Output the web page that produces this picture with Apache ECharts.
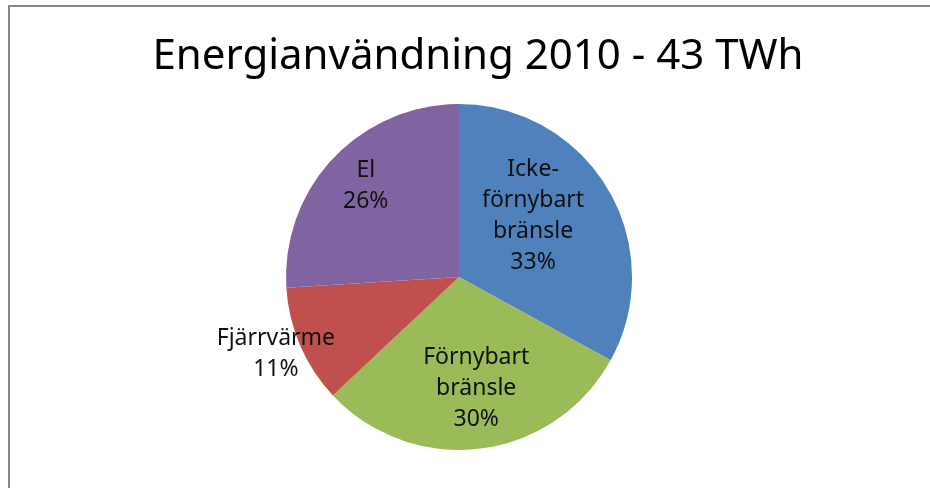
<!DOCTYPE html>
<html>
<head>
<meta charset="utf-8">
<script src="https://cdn.jsdelivr.net/npm/echarts@6/dist/echarts.min.js"></script>
<style>
html,body{margin:0;padding:0;background:#fff;}
#chart{width:930px;height:488px;}
</style>
</head>
<body>
<div id="chart"></div>
<script>
const titleText = 'Energianvändning 2010 - 43 TWh';
const categories = ['Icke-\nförnybart\nbränsle', 'Förnybart\nbränsle', 'Fjärrvärme', 'El'];
const values = [33, 30, 11, 26];
const colors = ['#4F81BD', '#9BBB59', '#C0504D', '#8064A2'];
const labelOffsets = [[-3, -15], [6, 23], [-101, 41], [-28, -30]];

const chart = echarts.init(document.getElementById('chart'));
chart.setOption({
  animation: false,
  title: {
    text: titleText,
    left: 473,
    textAlign: 'center',
    top: 31,
    textStyle: {fontFamily: 'Noto Sans', fontSize: 42, fontWeight: 'normal', color: '#000'}
  },
  graphic: [{
    type: 'rect',
    shape: {x: 9, y: 6, width: 1000, height: 1000},
    style: {fill: 'none', stroke: '#878787', lineWidth: 2},
    silent: true
  }],
  series: [{
    type: 'pie',
    center: [459, 277],
    radius: [0, 173],
    startAngle: 90,
    clockwise: true,
    label: {
      show: true,
      position: 'inside',
      formatter: p => p.name + '\n' + p.value + '%',
      fontFamily: 'Noto Sans',
      fontSize: 23,
      lineHeight: 31,
      color: '#111'
    },
    labelLine: {show: false},
    itemStyle: {borderWidth: 0},
    emphasis: {disabled: true},
    data: categories.map((c, i) => ({
      name: c,
      value: values[i],
      itemStyle: {color: colors[i]},
      label: {offset: labelOffsets[i]}
    }))
  }]
});
</script>
</body>
</html>
